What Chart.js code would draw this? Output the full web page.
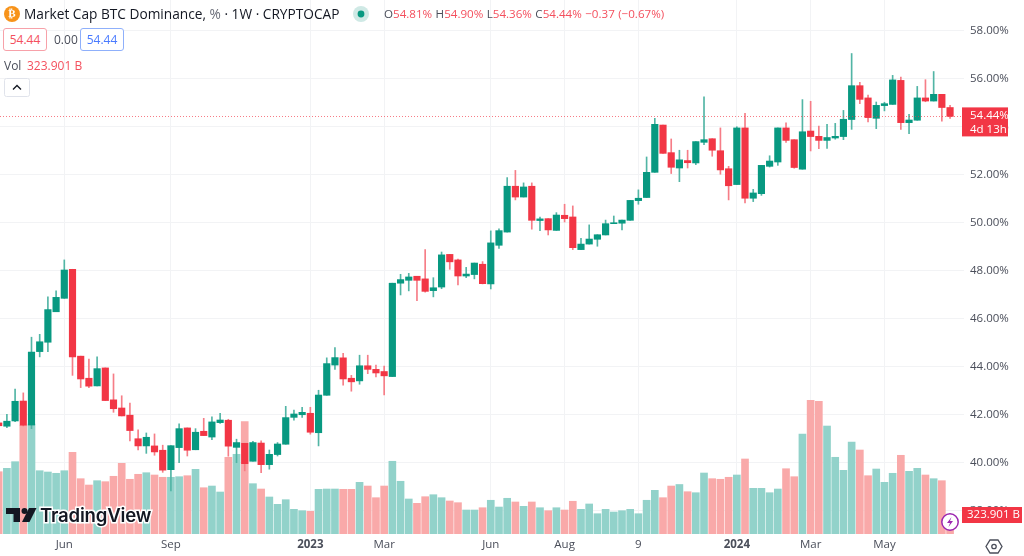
<!DOCTYPE html>
<html>
<head>
<meta charset="utf-8">
<title>Market Cap BTC Dominance</title>
<script src="https://cdn.jsdelivr.net/npm/chart.js@4"></script>
<style>
  html, body { margin: 0; padding: 0; background: #fff; overflow: hidden; }
  #wrap { position: relative; width: 1024px; height: 556px; font-family: "Open Sans", sans-serif; color: #131722; }
  #wrap div, #wrap span { position: absolute; white-space: nowrap; }
  .box { height: 21px; width: 42px; border-radius: 3px; font-size: 12px; line-height: 21px; text-align: center; background: #fff; }
  #ohlc b { font-weight: 400; color: #4a4e5a; }
  #ohlc { color: #f4505e; font-size: 11.6px; left: 384px; top: 6px; word-spacing: 0.4px; }
  svg { position: absolute; }
</style>
</head>
<body>
<div id="wrap">
  <canvas id="chart" width="1024" height="556" style="position:absolute;left:0;top:0"></canvas>

  <svg style="left:4px;top:6px" width="16" height="16"><circle cx="8" cy="8" r="8" fill="#f7931a"/></svg>
  <div style="left:4px;top:6px;width:16px;text-align:center;color:#fff;font:bold 11px/16px 'DejaVu Sans'">₿</div>
  <div style="left:24px;top:5px;font-size:13.7px;line-height:18px">Market Cap BTC Dominance, <span style="position:static;color:#6a6d78">%</span> · 1W · CRYPTOCAP</div>
  <svg style="left:352px;top:5px" width="18" height="18"><circle cx="9" cy="9" r="8" fill="#cfe9e5"/><circle cx="9" cy="9" r="3.4" fill="#089981"/></svg>
  <div id="ohlc"><b>O</b>54.81% <b>H</b>54.90% <b>L</b>54.36% <b>C</b>54.44% −0.37 (−0.67%)</div>

  <div class="box" style="left:3px;top:28px;border:1px solid #f7a1a9;color:#f4505e">54.44</div>
  <div style="left:54px;top:29px;font-size:12px;line-height:21px;color:#4a4e5a">0.00</div>
  <div class="box" style="left:80px;top:28px;border:1px solid #8fb0fb;color:#4a7bff">54.44</div>
  <div style="left:4px;top:57px;font-size:12px;line-height:17px;color:#4a4e5a">Vol</div>
  <div style="left:27px;top:57px;font-size:12px;line-height:17px;color:#f4505e">323.901 B</div>
  <svg style="left:4px;top:78px" width="26" height="19"><rect x="0.5" y="0.5" width="25" height="18" rx="2" fill="#fff" stroke="#e0e3eb"/><path d="M9 11.5 L13 7.5 L17 11.5" fill="none" stroke="#131722" stroke-width="1.3"/></svg>

  <svg style="left:5px;top:506px" width="32" height="18"><path d="M1 2 H15 V16 H8.5 V8 H1 Z" fill="#131722"/><circle cx="19.5" cy="5" r="3" fill="#131722"/><path d="M24 2 H31.5 L24.5 16 H17 Z" fill="#131722"/></svg>
  <div style="left:40px;top:503px;font:600 18.6px/24px Inter,sans-serif;color:#131722;-webkit-text-stroke:3px #fff;paint-order:stroke fill;letter-spacing:-0.2px">TradingView</div>

  <svg style="left:940px;top:512px" width="20" height="20"><circle cx="10" cy="10" r="8.2" fill="#fff" stroke="#9c27b0" stroke-width="1.5"/><path d="M11.5 5 L7 11 H10 L8.5 15 L13 9 H10 Z" fill="#9c27b0"/></svg>
  <svg style="left:985px;top:538px" width="18" height="17"><path d="M5 2 H13 L17 8.5 L13 15 H5 L1 8.5 Z" fill="none" stroke="#4a4e5a" stroke-width="1.3"/><circle cx="9" cy="8.5" r="2.2" fill="none" stroke="#4a4e5a" stroke-width="1.3"/></svg>
</div>

<script>
// Wochenkerzen, von links nach rechts
var opens = [41.67,41.53,41.75,42.58,41.58,44.64,45.03,46.30,46.86,48.07,
  44.45,43.53,43.21,43.96,42.63,42.29,41.99,41.01,40.71,40.71,
  40.53,39.72,40.64,41.46,40.55,41.32,41.08,41.68,41.78,40.65,
  40.82,40.07,40.83,39.93,40.35,40.78,41.90,42.01,42.07,41.26,
  42.82,44.08,44.38,43.53,43.42,44.05,43.90,43.81,43.60,47.49,
  47.61,47.78,47.67,47.18,47.33,48.69,48.46,47.79,47.85,48.28,
  47.46,49.07,49.62,51.53,51.08,51.53,50.10,50.18,49.69,50.32,
  50.25,48.89,49.12,49.32,49.50,49.97,49.99,50.11,50.93,51.06,
  52.11,54.08,52.93,52.29,52.60,52.50,53.36,53.51,53.01,52.26,
  51.60,53.96,51.03,51.22,52.36,52.54,53.96,53.47,52.24,53.83,
  53.61,53.44,53.54,53.60,54.31,55.72,55.21,54.36,54.89,54.94,
  55.94,54.18,54.28,55.21,55.08,55.36,54.81];
var highs = [41.67,42.03,43.08,42.92,45.24,45.36,46.92,47.17,48.46,48.07,
  44.45,44.33,44.42,43.96,43.71,42.80,42.49,41.38,41.25,41.21,
  40.74,40.72,41.63,41.46,41.43,41.86,41.92,42.07,41.82,40.99,
  40.82,40.90,40.92,40.54,40.85,42.36,42.20,42.32,42.32,43.03,
  44.38,44.81,44.57,43.65,44.49,44.49,44.08,44.04,47.49,47.86,
  47.90,47.78,48.89,47.72,48.79,48.69,48.49,48.15,48.33,48.39,
  49.67,49.76,51.89,52.19,51.67,51.67,50.24,50.18,50.43,50.78,
  50.71,49.36,49.92,49.51,50.12,50.29,50.12,50.94,51.38,52.75,
  54.36,54.08,53.50,53.03,53.03,53.39,55.26,53.51,53.96,52.36,
  54.01,54.57,51.40,52.40,52.80,53.96,54.17,53.47,55.14,55.07,
  54.04,54.11,54.15,54.69,57.06,55.86,55.33,55.04,55.03,56.15,
  56.08,54.53,55.69,55.97,56.31,55.36,54.90];
var lows = [41.55,41.47,41.72,41.54,41.43,44.42,44.64,46.30,46.86,43.65,
  43.14,43.14,43.21,42.60,42.11,41.96,40.92,40.54,40.40,40.32,
  39.61,38.83,40.01,40.29,40.55,41.14,40.97,41.65,40.28,40.01,
  39.67,40.07,39.60,39.74,40.29,40.78,41.78,41.90,41.20,40.71,
  42.82,43.90,43.24,42.99,43.28,43.72,43.58,42.83,43.60,47.00,
  47.17,46.76,47.12,46.92,47.26,48.07,47.42,47.72,47.67,47.46,
  47.25,48.94,49.62,50.96,51.08,49.74,49.68,49.50,49.69,50.04,
  48.89,48.89,49.12,49.03,49.50,49.97,49.71,50.11,50.78,51.06,
  52.11,52.90,52.06,51.72,52.29,52.43,53.26,52.78,52.03,50.96,
  51.60,50.83,50.89,51.15,52.33,52.40,53.36,52.28,52.24,53.00,
  53.10,53.11,53.49,53.47,53.90,54.97,54.21,53.93,54.67,54.94,
  53.90,53.72,54.28,55.05,55.08,54.24,54.36];
var closes = [41.55,41.74,42.57,41.57,44.62,45.05,46.39,46.90,48.04,44.42,
  43.50,43.20,43.93,42.60,42.26,41.96,41.35,40.71,41.07,40.46,
  39.70,40.72,41.43,40.53,41.28,41.14,41.71,41.79,40.70,40.85,
  39.97,40.85,39.93,40.36,40.79,41.89,42.04,42.11,41.28,42.83,
  44.14,44.39,43.50,43.38,44.05,43.90,43.75,43.63,47.49,47.64,
  47.75,47.61,47.15,47.30,48.67,48.38,47.79,47.87,48.33,47.47,
  49.17,49.68,51.53,51.08,51.50,50.11,50.17,49.71,50.33,50.18,
  48.97,49.12,49.33,49.51,49.97,50.01,50.12,50.94,51.03,52.11,
  54.11,52.90,52.32,52.63,52.51,53.39,53.47,53.03,52.21,51.55,
  53.96,51.03,51.25,52.40,52.58,53.96,53.44,52.31,53.80,53.60,
  53.44,53.56,53.61,54.32,55.72,55.15,54.39,54.90,54.97,55.96,
  54.18,54.29,55.21,55.08,55.36,54.81,54.44];
// Volumen in Milliarden
var volumes = [1062,1120,1233,1847,1876,1079,1057,1035,1079,1393,
  943,835,909,892,984,1205,933,1018,1045,1006,
  967,967,977,994,1103,789,818,716,1308,1359,
  1915,858,767,631,506,585,421,397,387,762,
  767,767,762,762,881,818,619,818,1240,899,
  597,523,636,670,619,563,534,409,409,448,
  575,460,609,546,472,546,448,397,448,409,
  558,421,512,346,421,375,397,421,346,575,
  745,619,818,844,721,704,1040,943,933,967,
  1006,1279,779,779,704,767,1113,977,1705,2280,
  2263,1841,1308,1086,1569,1432,994,1108,881,1035,
  1342,1069,1120,1006,943,909,323.901];

var timeTickIndex = [8,21,38,47,60,69,78,90,99,108];
var timeTickLabels = ['Jun','Sep','2023','Mar','Jun','Aug','9','2024','Mar','May'];
var priceTicks = [38,40,42,44,46,48,50,52,54,56,58];
var lastPrice = 54.44;
var lastVolume = 323.901;

var GREEN = '#089981', RED = '#f23645';
var FONT = '"Open Sans", sans-serif';

function isUp(i) { return closes[i] >= opens[i]; }

var bodyData = [], wickData = [], volData = [];
for (var i = 0; i < opens.length; i++) {
    bodyData.push({ x: i, y: [opens[i], closes[i]] });
    wickData.push({ x: i, y: [lows[i], highs[i]] });
    volData.push({ x: i, y: volumes[i] });
}

// keine automatische Randreserve fuer Tick-Beschriftungen
function noPadding(axis) {
    axis.paddingLeft = axis.paddingRight = axis.paddingTop = axis.paddingBottom = 0;
}

// Preislinie und rote Marken rechts
var tagsPlugin = {
    id: 'tags',
    afterDraw: function (chart) {
        var c = chart.ctx, area = chart.chartArea;
        var py = chart.scales.y.getPixelForValue(lastPrice);
        var vy = chart.scales.vol.getPixelForValue(lastVolume);
        c.save();
        c.strokeStyle = 'rgba(242,54,69,0.65)';
        c.lineWidth = 1;
        c.setLineDash([1, 2]);
        c.beginPath();
        c.moveTo(0, Math.round(py) + 0.5);
        c.lineTo(area.right, Math.round(py) + 0.5);
        c.stroke();
        c.setLineDash([]);

        c.fillStyle = RED;
        c.fillRect(area.right - 2, py - 9, 46, 29);
        c.fillRect(area.right - 2, vy - 8, 60, 16);
        c.fillStyle = '#fff';
        c.font = '11.5px ' + FONT;
        c.textBaseline = 'middle';
        c.textAlign = 'left';
        c.fillText('54.44%', area.right + 6, py - 1);
        c.fillText('4d 13h', area.right + 6, py + 13);
        c.fillText('323.901 B', area.right + 3, vy);
        c.restore();
    }
};

var ctx = document.getElementById('chart').getContext('2d');
var myChart = new Chart(ctx, {
    type: 'bar',
    data: {
        datasets: [
            { label: 'Body', data: bodyData, yAxisID: 'y', order: 1, barThickness: 6.5,
              backgroundColor: bodyData.map(function (d, i) { return isUp(i) ? GREEN : RED; }) },
            { label: 'Wick', data: wickData, yAxisID: 'y', order: 2, barThickness: 1,
              backgroundColor: wickData.map(function (d, i) { return isUp(i) ? '#52b5a5' : '#f67d87'; }) },
            { label: 'Vol', data: volData, yAxisID: 'vol', order: 3, barThickness: 7,
              backgroundColor: volData.map(function (d, i) { return isUp(i) ? '#92d2ca' : '#f9a9a9'; }) }
        ]
    },
    options: {
        responsive: false,
        devicePixelRatio: 1,
        animation: false,
        layout: { padding: 0 },
        datasets: { bar: { grouped: false } },
        plugins: { legend: { display: false }, tooltip: { enabled: false } },
        scales: {
            x: {
                type: 'linear',
                offset: false,
                min: 0.16,
                max: 117.7,
                afterBuildTicks: function (axis) {
                    axis.ticks = timeTickIndex.map(function (v) { return { value: v }; });
                },
                afterFit: function (axis) { axis.height = 22; noPadding(axis); },
                border: { display: false },
                grid: { color: '#f2f3f5', drawTicks: false, offset: false },
                ticks: {
                    autoSkip: false,
                    maxRotation: 0,
                    padding: 4,
                    color: '#4a4e5a',
                    font: function (c) {
                        var bold = /^20/.test(timeTickLabels[c.index]);
                        return { family: FONT, size: 11.5, weight: bold ? '700' : '400' };
                    },
                    callback: function (v, idx) { return timeTickLabels[idx]; }
                }
            },
            y: {
                position: 'right',
                min: 37.04,
                max: 59.29,
                afterBuildTicks: function (axis) {
                    axis.ticks = priceTicks.map(function (v) { return { value: v }; });
                },
                afterFit: function (axis) { axis.width = 60; noPadding(axis); },
                border: { display: false },
                grid: { color: '#f2f3f5', drawTicks: false },
                ticks: {
                    padding: 6,
                    color: '#4a4e5a',
                    font: { family: FONT, size: 11.5 },
                    callback: function (v) { return v.toFixed(2) + '%'; }
                }
            },
            vol: {
                display: false,
                min: 0,
                max: 9105
            }
        }
    },
    plugins: [tagsPlugin]
});
</script>
</body>
</html>
